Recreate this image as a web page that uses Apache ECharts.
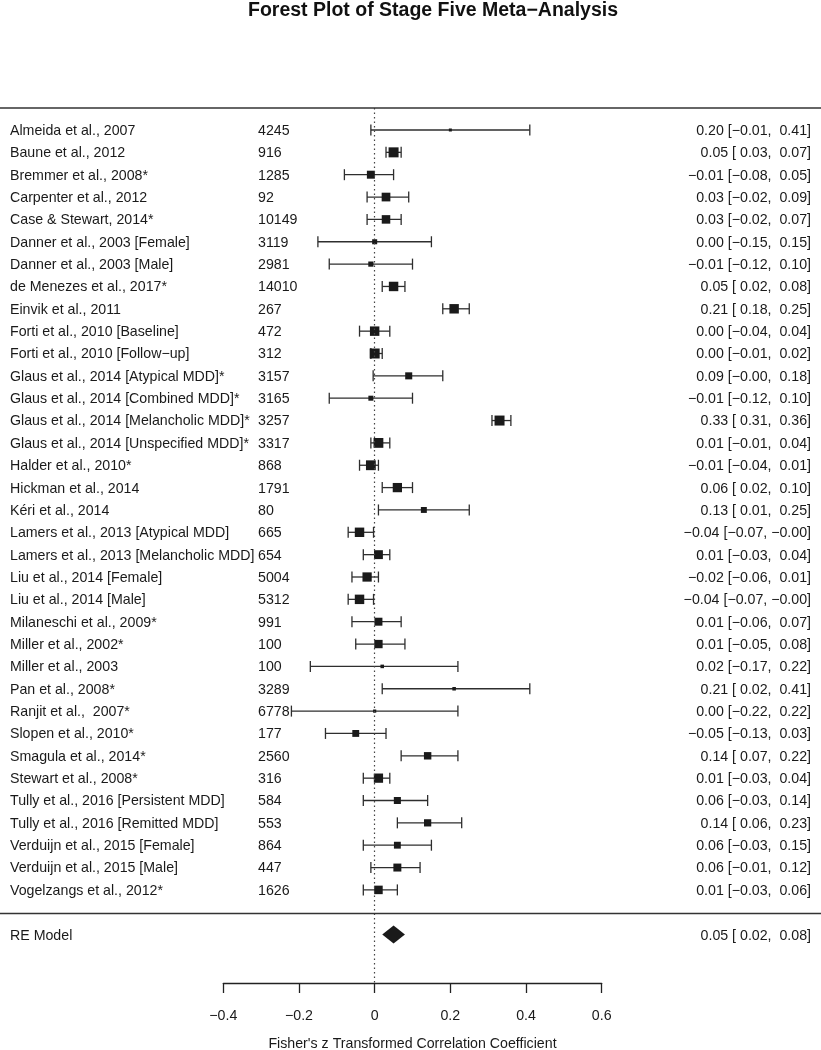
<!DOCTYPE html>
<html>
<head>
<meta charset="utf-8">
<script src="https://cdn.jsdelivr.net/npm/echarts@6/dist/echarts.min.js"></script>
<style>
html,body{margin:0;padding:0;background:#fff;}
#chart{width:821px;height:1050px;}
</style>
</head>
<body>
<div id="chart"></div>
<script>
// ---------------- data ----------------
const studies = [
  "Almeida et al., 2007",
  "Baune et al., 2012",
  "Bremmer et al., 2008*",
  "Carpenter et al., 2012",
  "Case & Stewart, 2014*",
  "Danner et al., 2003 [Female]",
  "Danner et al., 2003 [Male]",
  "de Menezes et al., 2017*",
  "Einvik et al., 2011",
  "Forti et al., 2010 [Baseline]",
  "Forti et al., 2010 [Follow\u2212up]",
  "Glaus et al., 2014 [Atypical MDD]*",
  "Glaus et al., 2014 [Combined MDD]*",
  "Glaus et al., 2014 [Melancholic MDD]*",
  "Glaus et al., 2014 [Unspecified MDD]*",
  "Halder et al., 2010*",
  "Hickman et al., 2014",
  "K\u00e9ri et al., 2014",
  "Lamers et al., 2013 [Atypical MDD]",
  "Lamers et al., 2013 [Melancholic MDD]",
  "Liu et al., 2014 [Female]",
  "Liu et al., 2014 [Male]",
  "Milaneschi et al., 2009*",
  "Miller et al., 2002*",
  "Miller et al., 2003",
  "Pan et al., 2008*",
  "Ranjit et al.,  2007*",
  "Slopen et al., 2010*",
  "Smagula et al., 2014*",
  "Stewart et al., 2008*",
  "Tully et al., 2016 [Persistent MDD]",
  "Tully et al., 2016 [Remitted MDD]",
  "Verduijn et al., 2015 [Female]",
  "Verduijn et al., 2015 [Male]",
  "Vogelzangs et al., 2012*"
];
const sampleN = [4245, 916, 1285, 92, 10149, 3119, 2981, 14010, 267, 472, 312, 3157, 3165, 3257, 3317,
  868, 1791, 80, 665, 654, 5004, 5312, 991, 100, 100, 3289, 6778, 177, 2560, 316, 584, 553, 864, 447, 1626];
const estimates = [0.20, 0.05, -0.01, 0.03, 0.03, 0.00, -0.01, 0.05, 0.21, 0.00, 0.00, 0.09, -0.01, 0.33, 0.01,
  -0.01, 0.06, 0.13, -0.04, 0.01, -0.02, -0.04, 0.01, 0.01, 0.02, 0.21, 0.00, -0.05, 0.14, 0.01, 0.06, 0.14, 0.06, 0.06, 0.01];
const ciLower = [-0.01, 0.03, -0.08, -0.02, -0.02, -0.15, -0.12, 0.02, 0.18, -0.04, -0.01, -0.004, -0.12, 0.31, -0.01,
  -0.04, 0.02, 0.01, -0.07, -0.03, -0.06, -0.07, -0.06, -0.05, -0.17, 0.02, -0.22, -0.13, 0.07, -0.03, -0.03, 0.06, -0.03, -0.01, -0.03];
const ciUpper = [0.41, 0.07, 0.05, 0.09, 0.07, 0.15, 0.10, 0.08, 0.25, 0.04, 0.02, 0.18, 0.10, 0.36, 0.04,
  0.01, 0.10, 0.25, -0.003, 0.04, 0.01, -0.003, 0.07, 0.08, 0.22, 0.41, 0.22, 0.03, 0.22, 0.04, 0.14, 0.23, 0.15, 0.12, 0.06];
const weights = [0.2, 4.0, 2.9, 3.3, 3.2, 1.3, 1.4, 3.7, 3.7, 3.7, 4.0, 2.4, 1.3, 4.0, 3.9,
  3.9, 3.6, 1.8, 3.7, 3.4, 3.6, 3.7, 2.9, 3.1, 0.5, 0.5, 0.3, 2.3, 2.6, 3.6, 2.4, 2.5, 2.3, 2.9, 3.2];
const pooledLabel = "RE Model";
const pooled = [0.05, 0.02, 0.08]; // estimate, lower, upper
const xTicks = [-0.4, -0.2, 0, 0.2, 0.4, 0.6];
const titleText = "Forest Plot of Stage Five Meta\u2212Analysis";
const xAxisTitle = "Fisher's z Transformed Correlation Coefficient";

// ---------------- layout ----------------
const FONT = "'Liberation Sans', Arial, Helvetica, sans-serif";
const FS = 14.2;
const TXT = '#1a1a1a';
const plotTop = 108, axisY = 983, firstRowY = 130, rowPitch = 22.35;
const pooledRow = studies.length + 1;

function fmtNum(v) { return v.toFixed(2).replace('-', '\u2212'); }
function fmtPad(v) { const s = v.toFixed(2); return s[0] === '-' ? '\u2212' + s.slice(1) : ' ' + s; }
function ciText(e, l, u) { return fmtNum(e) + ' [' + fmtPad(l) + ', ' + fmtPad(u) + ']'; }

const wMin = Math.min(...weights), wMax = Math.max(...weights);
function sqSize(w) { return 3 + (w - wMin) / (wMax - wMin) * 7; }

const studyData = studies.map((s, i) => [i, estimates[i], ciLower[i], ciUpper[i], weights[i]]);

function textEl(text, x, y, align) {
  return { type: 'text', style: { text: text, x: x, y: y + 1, align: align, verticalAlign: 'middle',
    fontSize: FS, fontFamily: FONT, fill: TXT } };
}

const chart = echarts.init(document.getElementById('chart'), null, { renderer: 'canvas', width: 821, height: 1050 });
const W = 821;

chart.setOption({
  backgroundColor: '#fff',
  animation: false,
  title: {
    text: titleText, left: 428, top: -4, textAlign: 'center',
    textStyle: { fontFamily: FONT, fontSize: 19.5, fontWeight: 'bold', color: '#111' }
  },
  grid: { left: 223.3, width: 601.7 - 223.3, top: plotTop, height: axisY - plotTop,
    containLabel: false, outerBoundsMode: 'none' },
  xAxis: {
    type: 'value', min: xTicks[0], max: xTicks[xTicks.length - 1], interval: 0.2,
    splitLine: { show: false },
    axisLine: { show: true, onZero: false, lineStyle: { color: '#222', width: 1.3 } },
    axisTick: { show: true, inside: false, length: 10, lineStyle: { color: '#222', width: 1.3 } },
    axisLabel: {
      margin: 26, fontSize: FS, fontFamily: FONT, color: TXT,
      formatter: v => Math.abs(v) < 1e-9 ? '0' : (v < 0 ? '\u2212' : '') + Math.abs(v).toFixed(1)
    },
    name: xAxisTitle, nameLocation: 'middle', nameGap: 54,
    nameTextStyle: { fontSize: FS, fontFamily: FONT, color: TXT }
  },
  yAxis: {
    type: 'value', inverse: true,
    min: -(firstRowY - plotTop) / rowPitch, max: (axisY - firstRowY) / rowPitch,
    show: false, splitLine: { show: false }
  },
  graphic: [
    { type: 'line', shape: { x1: 0, y1: plotTop, x2: W, y2: plotTop }, style: { stroke: '#333', lineWidth: 1.5 }, z: 10 },
    { type: 'line', shape: { x1: 0, y1: 913.5, x2: W, y2: 913.5 }, style: { stroke: '#333', lineWidth: 1.5 }, z: 10 }
  ],
  series: [
    {
      type: 'custom', name: 'studies', clip: false,
      encode: { x: [1, 2, 3], y: 0 },
      data: studyData,
      renderItem: function (params, api) {
        const i = params.dataIndex;
        const row = api.value(0);
        const pE = api.coord([api.value(1), row]);
        const pL = api.coord([api.value(2), row]);
        const pU = api.coord([api.value(3), row]);
        const y = pE[1];
        const s = sqSize(api.value(4));
        const cap = 5.5;
        const lineStyle = { stroke: '#2e2e2e', lineWidth: 1.3 };
        return {
          type: 'group',
          children: [
            { type: 'line', shape: { x1: pL[0], y1: y, x2: pU[0], y2: y }, style: lineStyle },
            { type: 'line', shape: { x1: pL[0], y1: y - cap, x2: pL[0], y2: y + cap }, style: lineStyle },
            { type: 'line', shape: { x1: pU[0], y1: y - cap, x2: pU[0], y2: y + cap }, style: lineStyle },
            { type: 'rect', shape: { x: pE[0] - s / 2, y: y - s / 2, width: s, height: s }, style: { fill: '#1a1a1a' } },
            textEl(studies[i], 10, y, 'left'),
            textEl(String(sampleN[i]), 258, y, 'left'),
            textEl(ciText(estimates[i], ciLower[i], ciUpper[i]), 811, y, 'right')
          ]
        };
      }
    },
    {
      type: 'custom', name: 'pooled', clip: false,
      encode: { x: [1, 2, 3], y: 0 },
      data: [[pooledRow, pooled[0], pooled[1], pooled[2]]],
      renderItem: function (params, api) {
        const row = api.value(0);
        const pE = api.coord([api.value(1), row]);
        const pL = api.coord([api.value(2), row]);
        const pU = api.coord([api.value(3), row]);
        const y = pE[1];
        const h = 9;
        return {
          type: 'group',
          children: [
            { type: 'polygon', shape: { points: [[pL[0], y], [pE[0], y - h], [pU[0], y], [pE[0], y + h]] },
              style: { fill: '#1a1a1a' } },
            textEl(pooledLabel, 10, y, 'left'),
            textEl(ciText(pooled[0], pooled[1], pooled[2]), 811, y, 'right')
          ]
        };
      }
    },
    {
      type: 'line', name: 'ref', data: [], silent: true,
      markLine: {
        symbol: 'none', silent: true, label: { show: false },
        lineStyle: { type: [1.5, 3], color: '#444', width: 1.2 },
        data: [{ xAxis: 0 }]
      }
    }
  ]
});
</script>
</body>
</html>
